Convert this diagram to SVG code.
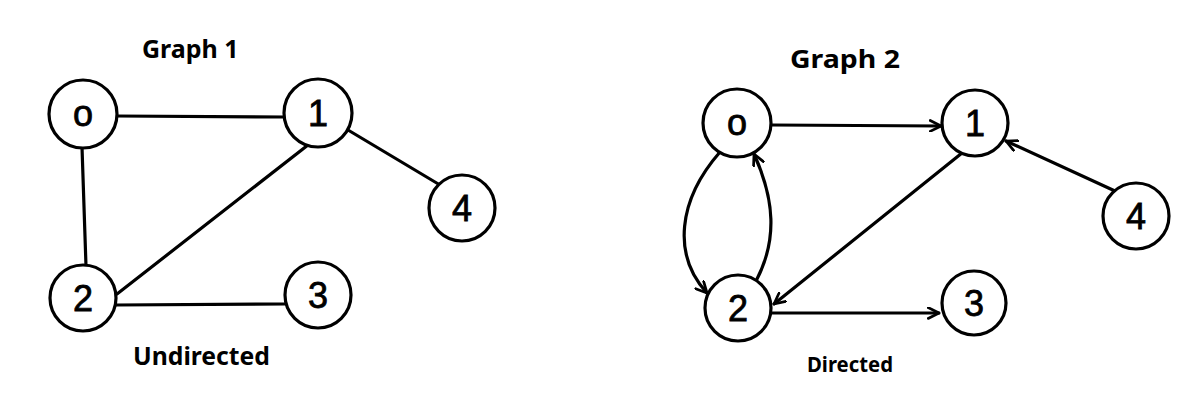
<svg xmlns="http://www.w3.org/2000/svg" width="1200" height="410" viewBox="0 0 1200 410">
<defs>
<style>
.node circle{fill:#fff;stroke:#000;stroke-width:3.2}
.node text{font-family:"Liberation Sans","DejaVu Sans",sans-serif;font-size:36px;text-anchor:middle;fill:#000;stroke:#000;stroke-width:0.8}
.edges line,.edges path{stroke:#000;stroke-width:3.2;fill:none;stroke-linecap:round}
.lbl{font-family:"Noto Sans","Liberation Sans",sans-serif;font-weight:bold;fill:#000}
</style>
<marker id="arr" viewBox="0 0 12 12" refX="11" refY="6" markerWidth="13" markerHeight="13" markerUnits="userSpaceOnUse" orient="auto">
<path d="M1,1 L11,6 L1,11" fill="none" stroke="#000" stroke-width="2.5" stroke-linecap="round" stroke-linejoin="round"/>
</marker>
</defs>
<rect width="1200" height="410" fill="#fff"/>

<text class="lbl" x="142" y="58" font-size="25">Graph 1</text>
<text class="lbl" x="133" y="365" font-size="25" textLength="137" lengthAdjust="spacingAndGlyphs">Undirected</text>
<text class="lbl" x="790" y="68" font-size="25" textLength="110" lengthAdjust="spacingAndGlyphs">Graph 2</text>
<text class="lbl" x="807" y="372" font-size="21" textLength="86" lengthAdjust="spacingAndGlyphs">Directed</text>

<g class="edges" id="edges1">
<line x1="116" y1="116" x2="285" y2="117"/>
<line x1="82" y1="147" x2="86" y2="266"/>
<line x1="308" y1="145" x2="117" y2="294"/>
<line x1="348" y1="130" x2="440" y2="185"/>
<line x1="116" y1="305" x2="285" y2="304"/>
</g>

<g class="edges" id="edges2">
<line x1="772" y1="125" x2="941" y2="126" marker-end="url(#arr)"/>
<line x1="1115" y1="191" x2="1006" y2="141" marker-end="url(#arr)"/>
<line x1="962" y1="153" x2="774" y2="304" marker-end="url(#arr)"/>
<line x1="772" y1="313" x2="939" y2="313" marker-end="url(#arr)"/>
<path d="M720,152 C678,200 672,255 707,293" marker-end="url(#arr)"/>
<path d="M757,279 C777,240 775,200 754,154" marker-end="url(#arr)"/>
</g>

<g class="node" id="g1n0"><circle cx="83" cy="114" r="34"/><text x="83" y="126">o</text></g>
<g class="node" id="g1n1"><circle cx="318" cy="113" r="34"/><text x="318" y="126">1</text></g>
<g class="node" id="g1n4"><circle cx="462" cy="208" r="33"/><text x="462" y="221">4</text></g>
<g class="node" id="g1n2"><circle cx="83" cy="298" r="33"/><text x="83" y="311">2</text></g>
<g class="node" id="g1n3"><circle cx="318" cy="295" r="33"/><text x="318" y="308">3</text></g>

<g class="node" id="g2n0"><circle cx="737" cy="123" r="34"/><text x="737" y="135">o</text></g>
<g class="node" id="g2n1"><circle cx="975" cy="123" r="33"/><text x="975" y="136">1</text></g>
<g class="node" id="g2n4"><circle cx="1136" cy="216" r="33"/><text x="1136" y="229">4</text></g>
<g class="node" id="g2n2"><circle cx="738" cy="308" r="33"/><text x="738" y="321">2</text></g>
<g class="node" id="g2n3"><circle cx="974" cy="303" r="32"/><text x="974" y="316">3</text></g>
</svg>
